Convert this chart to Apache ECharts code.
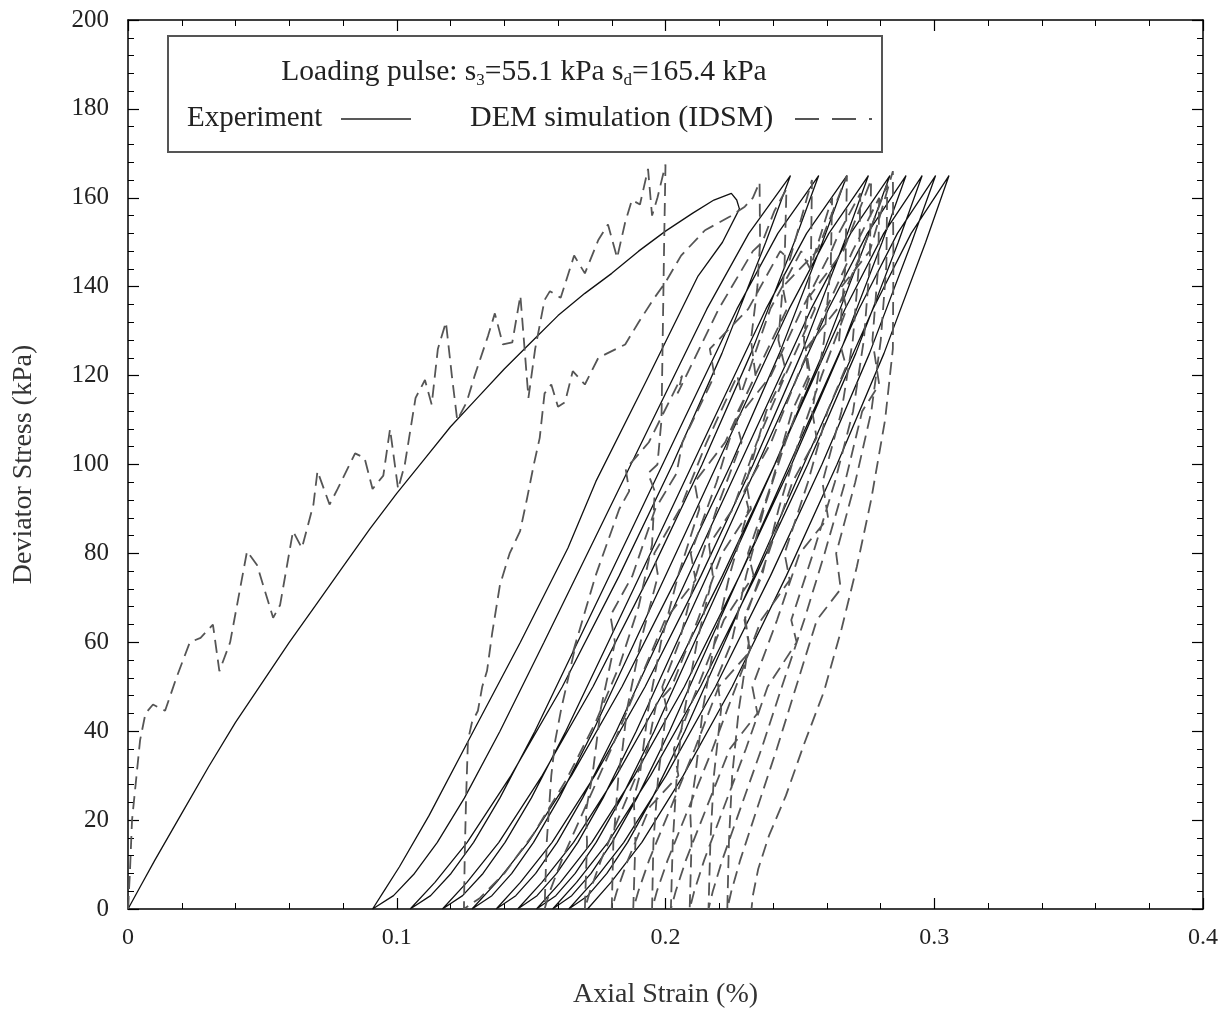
<!DOCTYPE html>
<html>
<head>
<meta charset="utf-8">
<script src="https://cdn.jsdelivr.net/npm/echarts/dist/echarts.min.js"></script>
<style>
  html, body { margin: 0; padding: 0; background: #ffffff; }
  #chart { width: 1228px; height: 1014px; }
</style>
</head>
<body>
<div id="chart"></div>
<script>
// Tick labels
const strainLabels = ['0', '0.1', '0.2', '0.3', '0.4'];
const stressLabels = ['0', '20', '40', '60', '80', '100', '120', '140', '160', '180', '200'];

// Experiment: [axial strain (%), deviator stress (kPa)], in loading order
const expFirstLoading = [[0,0],[0.005,5.5],[0.01,11],[0.02,21.5],[0.03,32],[0.04,42],[0.05,51],[0.06,60],[0.07,68.5],[0.08,77],[0.09,85.5],[0.1,93.5],[0.11,101],[0.12,108.5],[0.13,115],[0.14,121.5],[0.15,127.5],[0.16,133.5],[0.17,138.5],[0.18,143],[0.19,148],[0.2,152.5],[0.21,156.5],[0.218,159.5],[0.2245,161],[0.2265,159.5],[0.2275,157.5]];
const expUnload1 = [[0.2275,157.5],[0.2212,150],[0.2121,142.4],[0.1927,118.6],[0.1741,96.2],[0.1637,81.2],[0.146,60],[0.1285,40],[0.112,21],[0.101,9.5],[0.095,3.8],[0.091,0]];
const expLoad2 = [[0.091,0],[0.0988,3],[0.1066,8],[0.1151,15],[0.1252,25],[0.1384,40],[0.1548,60],[0.175,85],[0.1952,110],[0.2154,135],[0.231,152],[0.2465,165]];
const expUnload2 = [[0.2465,165],[0.2373,150],[0.221,125],[0.2026,100],[0.1828,75],[0.1616,50],[0.1425,30],[0.1262,15],[0.1142,6],[0.105,0]];
const expLoad3 = [[0.105,0],[0.1126,3],[0.1202,8],[0.1286,15],[0.1384,25],[0.1514,40],[0.1673,60],[0.1871,85],[0.2068,110],[0.2266,135],[0.2418,152],[0.257,165]];
const expUnload3 = [[0.257,165],[0.2479,150],[0.2318,125],[0.2136,100],[0.194,75],[0.173,50],[0.1541,30],[0.138,15],[0.1261,6],[0.117,0]];
const expLoad4 = [[0.117,0],[0.1245,3],[0.1321,8],[0.1403,15],[0.1501,25],[0.1629,40],[0.1787,60],[0.1983,85],[0.2178,110],[0.2374,135],[0.2525,152],[0.2675,165]];
const expUnload4 = [[0.2675,165],[0.2584,150],[0.2424,125],[0.2243,100],[0.2047,75],[0.1838,50],[0.165,30],[0.1489,15],[0.1371,6],[0.128,0]];
const expLoad5 = [[0.128,0],[0.1354,3],[0.1428,8],[0.1509,15],[0.1605,25],[0.173,40],[0.1885,60],[0.2077,85],[0.2268,110],[0.246,135],[0.2608,152],[0.2755,165]];
const expUnload5 = [[0.2755,165],[0.2665,150],[0.2506,125],[0.2326,100],[0.2132,75],[0.1924,50],[0.1737,30],[0.1578,15],[0.146,6],[0.137,0]];
const expLoad6 = [[0.137,0],[0.1443,3],[0.1517,8],[0.1597,15],[0.1692,25],[0.1817,40],[0.1971,60],[0.2161,85],[0.2352,110],[0.2542,135],[0.2689,152],[0.2835,165]];
const expUnload6 = [[0.2835,165],[0.2745,150],[0.2586,125],[0.2406,100],[0.2212,75],[0.2004,50],[0.1817,30],[0.1658,15],[0.154,6],[0.145,0]];
const expLoad7 = [[0.145,0],[0.1522,3],[0.1595,8],[0.1674,15],[0.1768,25],[0.1891,40],[0.2042,60],[0.223,85],[0.2418,110],[0.2606,135],[0.2751,152],[0.2895,165]];
const expUnload7 = [[0.2895,165],[0.2806,150],[0.2648,125],[0.2469,100],[0.2276,75],[0.207,50],[0.1884,30],[0.1726,15],[0.1609,6],[0.152,0]];
const expLoad8 = [[0.152,0],[0.1592,3],[0.1664,8],[0.1742,15],[0.1836,25],[0.1958,40],[0.2108,60],[0.2295,85],[0.2481,110],[0.2668,135],[0.2812,152],[0.2955,165]];
const expUnload8 = [[0.2955,165],[0.2866,150],[0.2708,125],[0.2529,100],[0.2336,75],[0.213,50],[0.1944,30],[0.1786,15],[0.1669,6],[0.158,0]];
const expLoad9 = [[0.158,0],[0.1651,3],[0.1723,8],[0.1801,15],[0.1894,25],[0.2015,40],[0.2164,60],[0.235,85],[0.2535,110],[0.272,135],[0.2863,152],[0.3005,165]];
const expUnload9 = [[0.3005,165],[0.2916,150],[0.2759,125],[0.2582,100],[0.2391,75],[0.2186,50],[0.2002,30],[0.1845,15],[0.1729,6],[0.164,0]];
const expLoad10 = [[0.164,0],[0.1711,3],[0.1782,8],[0.1859,15],[0.1951,25],[0.2072,40],[0.222,60],[0.2404,85],[0.2588,110],[0.2772,135],[0.2914,152],[0.3055,165]];
const expUnload10 = [[0.3055,165],[0.2968,150],[0.2813,125],[0.2638,100],[0.245,75],[0.2248,50],[0.2066,30],[0.1912,15],[0.1797,6],[0.171,0]];

// DEM simulation (IDSM): [axial strain (%), deviator stress (kPa)], in loading order
const demFirstLoading = [[0,0],[0.0007,8],[0.0015,20],[0.003,29],[0.0045,38],[0.0065,44],[0.0093,46],[0.0138,44.6],[0.018,52],[0.023,60],[0.027,61],[0.0316,64],[0.034,53.5],[0.038,60],[0.0443,80.5],[0.048,77.4],[0.054,65.5],[0.0566,68.4],[0.0614,85],[0.0647,81.2],[0.069,91],[0.0705,98.5],[0.075,91],[0.078,94.5],[0.0845,102.5],[0.088,101.5],[0.091,94.5],[0.095,97.5],[0.0975,108],[0.1005,94.5],[0.103,100],[0.107,115],[0.1105,119],[0.113,113.5],[0.1153,126],[0.1183,132],[0.1205,120],[0.1225,110],[0.126,114],[0.129,120],[0.134,129],[0.1365,134],[0.1395,127],[0.143,127.5],[0.146,138],[0.149,115],[0.1515,126],[0.155,137],[0.157,139],[0.161,137.5],[0.166,147],[0.17,143],[0.175,150.5],[0.1786,154],[0.182,146.5],[0.185,154.5],[0.1875,159.5],[0.1905,158.5],[0.1935,166.5],[0.195,156],[0.197,160],[0.2,167.5]];
const demUnload1 = [[0.2,167.5],[0.1995,150],[0.199,130],[0.1985,110],[0.197,100],[0.1935,98],[0.196,94],[0.195,82],[0.19,68],[0.183,55],[0.174,42],[0.163,29],[0.151,17],[0.14,8],[0.131,2.5],[0.125,0]];
const demReload2 = [[0.125,0],[0.1253,12],[0.1258,25],[0.1265,38],[0.128,42],[0.1302,44.6],[0.1318,50],[0.1336,53.6],[0.1355,62],[0.1384,72.9],[0.142,80],[0.1459,85],[0.1485,92.4],[0.151,100],[0.1532,106],[0.155,116],[0.1575,118],[0.16,113],[0.1626,114],[0.1655,121],[0.17,118],[0.175,124],[0.18,125.5],[0.185,127],[0.19,132],[0.1953,137],[0.2,141],[0.2058,147],[0.2147,152.7],[0.224,155.8],[0.2295,158],[0.2325,160],[0.235,163.5]];
const demUnload2 = [[0.235,163.5],[0.2352,150],[0.2342,140],[0.2318,128],[0.2335,120],[0.227,112],[0.219,96],[0.2094,80],[0.2112,74],[0.1998,65],[0.1894,50],[0.1798,36],[0.1702,23],[0.1614,11],[0.157,4],[0.155,0]];
const demReload3 = [[0.155,0],[0.1558,15],[0.1575,30],[0.159,38],[0.1612,45],[0.1668,60],[0.1652,57],[0.174,75],[0.1828,90],[0.1865,94],[0.1852,99],[0.1938,105],[0.2062,120],[0.2045,116],[0.2198,135],[0.2325,148],[0.236,150],[0.2405,157],[0.245,162]];
const demUnload3 = [[0.245,162],[0.2443,145],[0.242,128],[0.2448,121],[0.2375,112],[0.23,96],[0.2318,90],[0.221,80],[0.212,65],[0.2023,50],[0.1965,46],[0.1933,36],[0.1843,23],[0.176,11],[0.1719,4],[0.17,0]];
const demReload4 = [[0.17,0],[0.1708,15],[0.1704,22],[0.1728,30],[0.1759,45],[0.1812,60],[0.1795,66],[0.1877,75],[0.1962,90],[0.2041,98],[0.2063,105],[0.2182,120],[0.2165,126],[0.2308,135],[0.2427,148],[0.2462,146],[0.2545,164]];
const demUnload4 = [[0.2545,164],[0.2541,145],[0.2515,128],[0.2532,120],[0.2471,112],[0.2396,96],[0.2307,80],[0.2328,75],[0.2217,65],[0.212,50],[0.2031,36],[0.2048,30],[0.1942,23],[0.186,11],[0.1819,4],[0.18,0]];
const demReload5 = [[0.18,0],[0.1806,15],[0.1825,30],[0.184,36],[0.1857,45],[0.1907,60],[0.1972,75],[0.1958,80],[0.2054,90],[0.2153,105],[0.2267,120],[0.2282,116],[0.239,135],[0.2505,148],[0.2538,144],[0.262,160]];
const demUnload5 = [[0.262,160],[0.2615,145],[0.259,128],[0.2546,112],[0.2562,106],[0.2472,96],[0.2383,80],[0.2294,65],[0.2315,58],[0.2198,50],[0.2109,36],[0.2021,23],[0.1939,11],[0.1899,4],[0.188,0]];
const demReload6 = [[0.188,0],[0.1888,15],[0.1882,25],[0.1904,30],[0.1936,45],[0.1983,60],[0.2047,75],[0.2126,90],[0.2108,96],[0.2222,105],[0.2333,120],[0.2452,135],[0.2436,140],[0.2564,148],[0.2675,165]];
const demUnload6 = [[0.2675,165],[0.267,145],[0.2646,128],[0.2672,122],[0.2603,112],[0.253,96],[0.2443,80],[0.2462,74],[0.2356,65],[0.2262,50],[0.2175,36],[0.2088,23],[0.2008,11],[0.1968,4],[0.195,0]];
const demReload7 = [[0.195,0],[0.1955,15],[0.1973,30],[0.2004,45],[0.1988,50],[0.2051,60],[0.2113,75],[0.219,90],[0.2283,105],[0.2262,110],[0.2392,120],[0.2508,135],[0.2617,148],[0.2645,152],[0.2725,161]];
const demUnload7 = [[0.2725,161],[0.272,145],[0.2697,128],[0.2655,112],[0.2584,96],[0.2605,88],[0.2499,80],[0.2415,65],[0.2323,50],[0.2342,44],[0.2239,36],[0.2154,23],[0.2076,11],[0.2038,4],[0.202,0]];
const demReload8 = [[0.202,0],[0.2027,15],[0.2042,30],[0.2058,40],[0.2072,45],[0.2117,60],[0.2176,75],[0.2162,82],[0.2251,90],[0.234,105],[0.2445,120],[0.2556,135],[0.2538,138],[0.2661,148],[0.2765,164]];
const demUnload8 = [[0.2765,164],[0.276,145],[0.2738,128],[0.2698,112],[0.263,96],[0.2549,80],[0.2468,65],[0.2488,60],[0.238,50],[0.2299,36],[0.2218,23],[0.2144,11],[0.2107,4],[0.209,0]];
const demReload9 = [[0.209,0],[0.2097,15],[0.2092,22],[0.2111,30],[0.2139,45],[0.2182,60],[0.2238,75],[0.2309,90],[0.2293,94],[0.2393,105],[0.2492,120],[0.2598,135],[0.2696,148],[0.2795,160]];
const demUnload9 = [[0.2795,160],[0.2792,145],[0.277,128],[0.2795,118],[0.2732,112],[0.2668,96],[0.2592,80],[0.2516,65],[0.2433,50],[0.2357,36],[0.2281,23],[0.2211,11],[0.2176,4],[0.216,0]];
const demReload10 = [[0.216,0],[0.2167,15],[0.218,30],[0.2207,45],[0.2192,52],[0.2246,60],[0.23,75],[0.2366,90],[0.2446,105],[0.2539,120],[0.2522,126],[0.2639,135],[0.2732,148],[0.2825,163]];
const demUnload10 = [[0.2825,163],[0.2822,145],[0.2801,128],[0.2766,112],[0.2706,96],[0.2635,80],[0.2652,72],[0.2563,65],[0.2486,50],[0.2414,36],[0.2343,23],[0.2278,11],[0.2245,4],[0.223,0]];
const demReload11 = [[0.223,0],[0.2236,15],[0.2248,30],[0.2273,45],[0.231,60],[0.2295,66],[0.2359,75],[0.2421,90],[0.2495,105],[0.2581,120],[0.2674,135],[0.2655,140],[0.276,148],[0.2846,166]];
const demUnload11 = [[0.2846,166],[0.2848,145],[0.2846,126],[0.2817,110],[0.2765,92],[0.2712,77],[0.2655,63],[0.259,49],[0.2515,37],[0.2448,25.5],[0.2385,16.5],[0.2345,9],[0.2325,3],[0.232,0]];

// Each record is one continuous strain path
const experimentPath = [].concat(
  expFirstLoading, expUnload1, expLoad2, expUnload2, expLoad3, expUnload3,
  expLoad4, expUnload4, expLoad5, expUnload5, expLoad6, expUnload6,
  expLoad7, expUnload7, expLoad8, expUnload8, expLoad9, expUnload9,
  expLoad10, expUnload10
);
const demPath = [].concat(
  demFirstLoading, demUnload1, demReload2, demUnload2, demReload3, demUnload3,
  demReload4, demUnload4, demReload5, demUnload5, demReload6, demUnload6,
  demReload7, demUnload7, demReload8, demUnload8, demReload9, demUnload9,
  demReload10, demUnload10, demReload11, demUnload11
);

const FONT = '"Liberation Serif", "Times New Roman", serif';
const TEXT = '#222';

function frameAxis(extra) {
  return Object.assign({
    type: 'value',
    axisLine: { show: true, onZero: false, lineStyle: { color: '#000', width: 1.5 } },
    axisTick: { show: true, inside: true, length: 11, lineStyle: { color: '#000', width: 1.2 } },
    minorTick: { show: true, splitNumber: 5, length: 6, lineStyle: { color: '#000', width: 1 } },
    splitLine: { show: false },
    minorSplitLine: { show: false }
  }, extra);
}

const chart = echarts.init(document.getElementById('chart'), null, { renderer: 'canvas' });

chart.setOption({
  animation: false,
  backgroundColor: '#ffffff',
  grid: { left: 128, right: 25, top: 20, bottom: 102, containLabel: false },
  xAxis: [
    frameAxis({
      position: 'bottom', min: 0, max: 0.4, interval: 0.1,
      name: 'Axial Strain (%)', nameLocation: 'middle', nameGap: 72,
      nameTextStyle: { fontFamily: FONT, fontSize: 28, color: '#333' },
      axisLabel: {
        margin: 17, fontFamily: FONT, fontSize: 24, color: TEXT,
        formatter: v => strainLabels[Math.round(v / 0.1)]
      }
    }),
    frameAxis({ position: 'top', min: 0, max: 0.4, interval: 0.1, axisLabel: { show: false } })
  ],
  yAxis: [
    frameAxis({
      position: 'left', min: 0, max: 200, interval: 20,
      name: 'Deviator Stress (kPa)', nameLocation: 'middle', nameGap: 90,
      nameTextStyle: { fontFamily: FONT, fontSize: 28, color: '#333' },
      axisLabel: {
        margin: 19, fontFamily: FONT, fontSize: 25, color: TEXT,
        formatter: v => stressLabels[Math.round(v / 20)]
      }
    }),
    frameAxis({ position: 'right', min: 0, max: 200, interval: 20, axisLabel: { show: false } })
  ],
  series: [
    {
      name: 'Experiment', type: 'line', data: experimentPath,
      xAxisIndex: 0, yAxisIndex: 0,
      showSymbol: false, symbol: 'none', smooth: false,
      lineStyle: { color: '#111', width: 1.3 },
      z: 3
    },
    {
      name: 'DEM simulation (IDSM)', type: 'line', data: demPath,
      xAxisIndex: 0, yAxisIndex: 0,
      showSymbol: false, symbol: 'none', smooth: false,
      lineStyle: { color: '#555', width: 1.8, type: [13, 7] },
      z: 4
    }
  ],
  graphic: [
    {
      type: 'group', z: 100,
      children: [
        {
          type: 'rect',
          shape: { x: 168, y: 36, width: 714, height: 116 },
          style: { fill: '#fff', stroke: '#555', lineWidth: 2 }
        },
        {
          type: 'text', x: 524, y: 72,
          style: {
            text: '{n|Loading pulse: s}{sub|3}{n|=55.1 kPa s}{sub|d}{n|=165.4 kPa}',
            align: 'center', verticalAlign: 'middle',
            rich: {
              n: { fontFamily: FONT, fontSize: 29.5, lineHeight: 34, fill: TEXT },
              sub: { fontFamily: FONT, fontSize: 17, lineHeight: 18, verticalAlign: 'bottom', fill: TEXT }
            }
          }
        },
        {
          type: 'text', x: 187, y: 118,
          style: { text: 'Experiment', fontFamily: FONT, fontSize: 29, fill: TEXT, align: 'left', verticalAlign: 'middle' }
        },
        {
          type: 'line',
          shape: { x1: 341, y1: 119, x2: 411, y2: 119 },
          style: { stroke: '#222', lineWidth: 1.4 }
        },
        {
          type: 'text', x: 470, y: 118,
          style: { text: 'DEM simulation (IDSM)', fontFamily: FONT, fontSize: 30, fill: TEXT, align: 'left', verticalAlign: 'middle' }
        },
        {
          type: 'line',
          shape: { x1: 795, y1: 119, x2: 872, y2: 119 },
          style: { stroke: '#555', lineWidth: 1.8, lineDash: [24, 13] }
        }
      ]
    }
  ]
});
</script>
</body>
</html>
